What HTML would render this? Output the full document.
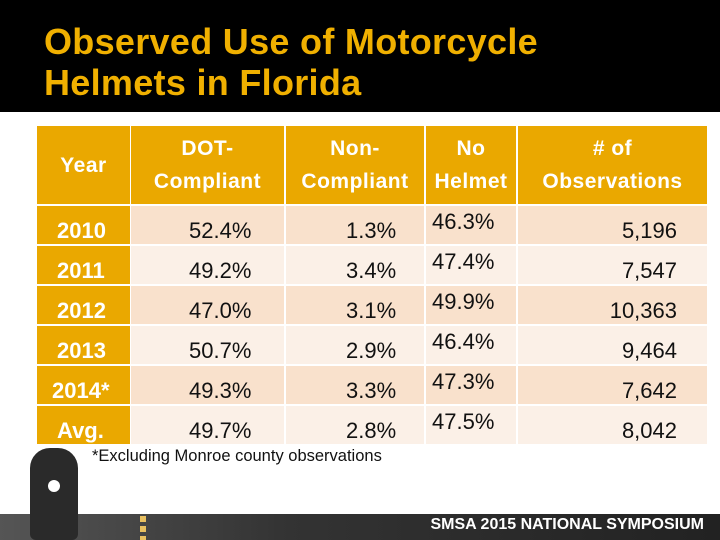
<!DOCTYPE html>
<html><head><meta charset="utf-8"><style>
body{margin:0;width:720px;height:540px;position:relative;overflow:hidden;background:#fff;font-family:"Liberation Sans",sans-serif}
.hdr{position:absolute;left:0;top:0;width:720px;height:112px;background:#000}
.title{position:absolute;left:44px;top:21px;color:#f0b000;font-weight:bold;font-size:36px;line-height:41px;letter-spacing:0.3px}
.c{position:absolute;box-sizing:border-box;font-size:22px;color:#111}
.h{background:#eaa800;color:#fff;text-align:center;display:flex;align-items:center;justify-content:center;line-height:33px;font-weight:bold;font-size:21px;letter-spacing:0.5px}
.y{background:#eaa800;color:#fff;font-weight:bold}
.a{background:#f9e1cc}.b{background:#fbf0e7}
.note{position:absolute;left:92px;top:447px;font-size:16.5px;color:#111}
.road{position:absolute;left:0;top:514px;width:720px;height:26px;background:linear-gradient(90deg,#555,#333 40%,#222)}
.sym{position:absolute;right:16px;top:516px;color:#fff;font-weight:bold;font-size:16px}
</style></head><body>
<div class="hdr"></div>
<div class="title">Observed Use of Motorcycle<br>Helmets in Florida</div>
<div id="t"></div>
<div class="note">*Excluding Monroe county observations</div>
<div class="road"></div>
<div style="position:absolute;left:140px;top:516px;width:6px;height:24px;background:repeating-linear-gradient(#e8c060 0 6px,transparent 6px 10px)"></div>
<div style="position:absolute;left:30px;top:448px;width:48px;height:92px;background:#2a2a2a;border-radius:20px 20px 6px 6px"></div>
<div style="position:absolute;left:48px;top:480px;width:12px;height:12px;background:#fff;border-radius:50%"></div>
<div class="sym">SMSA 2015 NATIONAL SYMPOSIUM</div>
<script>
const years=["2010","2011","2012","2013","2014*","Avg."];
const dot=["52.4%","49.2%","47.0%","50.7%","49.3%","49.7%"];
const non=["1.3%","3.4%","3.1%","2.9%","3.3%","2.8%"];
const noh=["46.3%","47.4%","49.9%","46.4%","47.3%","47.5%"];
const obs=["5,196","7,547","10,363","9,464","7,642","8,042"];
const cols=[[37,93],[131,153],[286,138],[426,90],[518,189]];
const t=document.getElementById('t');
function cell(x,y,w,h,cls,html,style){const d=document.createElement('div');d.className='c '+cls;d.style.cssText=`left:${x}px;top:${y}px;width:${w}px;height:${h}px;`+(style||'');d.innerHTML=html;t.appendChild(d);return d;}
const heads=["Year","DOT-<br>Compliant","Non-<br>Compliant","No<br>Helmet","# of<br>Observations"];
heads.forEach((s,i)=>{const d=cell(cols[i][0],126,cols[i][1],78,'h',s);

});
years.forEach((yr,r)=>{const y=206+r*40,h=38,bg=r%2?'b':'a';
const pad=yr.length>4?'15px':'20px';
let d=cell(cols[0][0],y,cols[0][1],h,'y',yr,'padding:12px 0 0 '+pad);


d=cell(cols[1][0],y,cols[1][1],h,bg,dot[r],'padding:12px 0 0 58px');


d=cell(cols[2][0],y,cols[2][1],h,bg,non[r],'padding:12px 0 0 60px');


d=cell(cols[3][0],y,cols[3][1],h,bg,noh[r],'padding:3px 0 0 6px');


d=cell(cols[4][0],y,cols[4][1],h,bg,obs[r],'padding:12px 30px 0 0;text-align:right');

});
</script>
</body></html>
